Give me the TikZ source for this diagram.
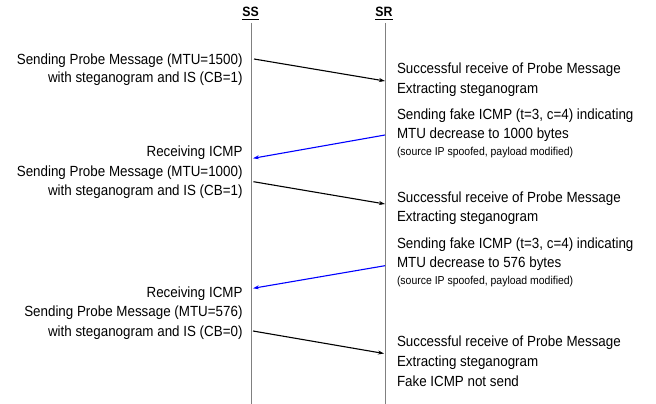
\documentclass[tikz,border=0pt]{standalone}
\usepackage{fontspec}
\setmainfont{Liberation Sans}[FakeStretch=0.91]
\usetikzlibrary{arrows.meta}
\definecolor{lifegray}{RGB}{128,128,128}
\definecolor{msgblue}{RGB}{0,0,255}
\tikzset{
  txt/.style={inner sep=0pt, outer sep=0pt, font=\fontsize{14.7}{17}\selectfont},
  ltxt/.style={txt, anchor=base east},
  rtxt/.style={txt, anchor=base west},
  smalltxt/.style={inner sep=0pt, outer sep=0pt, anchor=base west, font=\fontsize{11.5}{13}\selectfont},
  head/.style={inner sep=0pt, outer sep=0pt, anchor=base, font=\bfseries\fontsize{13.5}{15}\selectfont},
  lifeline/.style={draw=lifegray, line width=1pt},
  msg/.style={line width=1.1pt, -{Stealth[length=6pt,width=4pt]}},
  fake/.style={msg, draw=msgblue},
}
\begin{document}
\begin{tikzpicture}[x=1pt,y=-1pt]
\useasboundingbox (0,0) rectangle (656,404);
% headers and lifelines
\node[head] (ss) at (250.5,16.7) {SS};
\node[head] (sr) at (384,16.7) {SR};
\draw[line width=1pt] ([yshift=-2.5pt]ss.base west) -- ([yshift=-2.5pt]ss.base east);
\draw[line width=1pt] ([yshift=-2.5pt]sr.base west) -- ([yshift=-2.5pt]sr.base east);
\coordinate (sstop) at (251,23);
\coordinate (ssbot) at (251,404);
\coordinate (srtop) at (385,23);
\coordinate (srbot) at (385,404);
\draw[lifeline] (sstop) -- (ssbot);
\draw[lifeline] (srtop) -- (srbot);
% left texts
\node[ltxt] (l1) at (242.5,64) {Sending Probe Message (MTU=1500)};
\node[ltxt] (l2) at (242.5,83) {with steganogram and IS (CB=1)};
\node[ltxt] (l3) at (242.5,156) {Receiving ICMP};
\node[ltxt] (l4) at (242.5,176) {Sending Probe Message (MTU=1000)};
\node[ltxt] (l5) at (242.5,195) {with steganogram and IS (CB=1)};
\node[ltxt] (l6) at (242.5,297) {Receiving ICMP};
\node[ltxt] (l7) at (242.5,316.5) {Sending Probe Message (MTU=576)};
\node[ltxt] (l8) at (242.5,336) {with steganogram and IS (CB=0)};
% right texts
\node[rtxt] (r1) at (397,74) {Successful receive of Probe Message};
\node[rtxt] (r2) at (397,93.5) {Extracting steganogram};
\node[rtxt] (r3) at (397,119.5) {Sending fake ICMP (t=3, c=4) indicating};
\node[rtxt] (r4) at (397,138.5) {MTU decrease to 1000 bytes};
\node[smalltxt] (r5) at (397,155) {(source IP spoofed, payload modified)};
\node[rtxt] (r6) at (397,202) {Successful receive of Probe Message};
\node[rtxt] (r7) at (397,221) {Extracting steganogram};
\node[rtxt] (r8) at (397,248.5) {Sending fake ICMP (t=3, c=4) indicating};
\node[rtxt] (r9) at (397,267.5) {MTU decrease to 576 bytes};
\node[smalltxt] (r10) at (397,284) {(source IP spoofed, payload modified)};
\node[rtxt] (r11) at (397,346) {Successful receive of Probe Message};
\node[rtxt] (r12) at (397,366) {Extracting steganogram};
\node[rtxt] (r13) at (397,386) {Fake ICMP not send};
% message end points
\coordinate (m1s) at (254,59);
\coordinate (m1e) at (385,81);
\coordinate (f1s) at (385,135);
\coordinate (f1e) at (253,158.3);
\coordinate (m2s) at (253.5,181.7);
\coordinate (m2e) at (385,204);
\coordinate (f2s) at (385,265.7);
\coordinate (f2e) at (253,288.3);
\coordinate (m3s) at (253,331);
\coordinate (m3e) at (384,353.5);
% messages
\draw[msg] (m1s) -- (m1e);
\draw[fake] (f1s) -- (f1e);
\draw[msg] (m2s) -- (m2e);
\draw[fake] (f2s) -- (f2e);
\draw[msg] (m3s) -- (m3e);
\end{tikzpicture}
\end{document}
